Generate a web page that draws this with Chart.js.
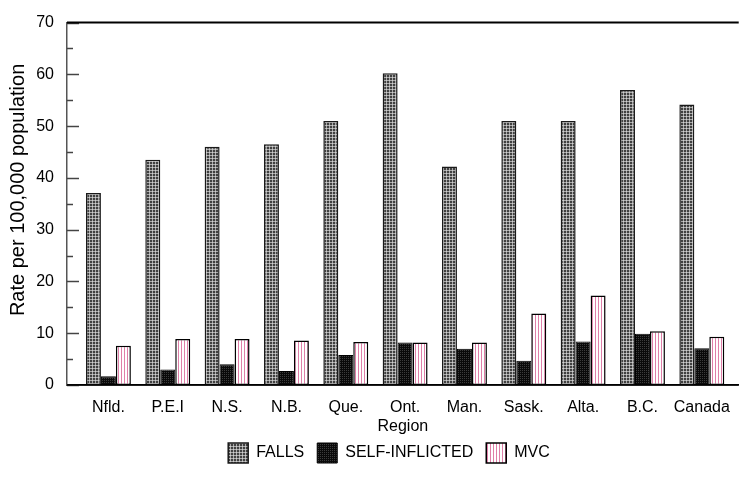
<!DOCTYPE html>
<html>
<head>
<meta charset="utf-8">
<script src="https://cdn.jsdelivr.net/npm/chart.js@4/dist/chart.umd.min.js"></script>
<style>
  html, body { margin: 0; padding: 0; background: #fff; }
  #wrap { width: 743px; height: 493px; position: relative; }
</style>
</head>
<body>
<div id="wrap"><canvas id="c" width="743" height="493"></canvas></div>
<script>
const categories = ['Nfld.', 'P.E.I', 'N.S.', 'N.B.', 'Que.', 'Ont.', 'Man.', 'Sask.', 'Alta.', 'B.C.', 'Canada'];
const falls = [37.1, 43.5, 46.0, 46.5, 51.0, 60.2, 42.2, 51.0, 51.0, 57.0, 54.2];
const selfInflicted = [1.7, 3.0, 4.0, 2.7, 5.8, 8.2, 7.0, 4.7, 8.4, 9.9, 7.1];
const mvc = [7.6, 8.9, 8.9, 8.6, 8.3, 8.2, 8.2, 13.8, 17.3, 10.4, 9.3];
const seriesNames = ['FALLS', 'SELF-INFLICTED', 'MVC'];
const yTickValues = [0, 10, 20, 30, 40, 50, 60, 70];

const FONT = '"Liberation Sans", Arial, sans-serif';

function makePattern(kind) {
  const c = document.createElement('canvas');
  const g = c.getContext('2d');
  if (kind === 'grid') {
    c.width = 3; c.height = 3;
    g.fillStyle = '#404040'; g.fillRect(0, 0, 3, 3);
    g.fillStyle = '#a8a8a8'; g.fillRect(2, 0, 1, 3); g.fillRect(0, 2, 3, 1);
    g.fillStyle = '#cfcfcf'; g.fillRect(2, 2, 1, 1);
  } else if (kind === 'dots') {
    c.width = 2; c.height = 2;
    g.fillStyle = '#0a0a0a'; g.fillRect(0, 0, 2, 2);
    g.fillStyle = '#3c3c3c'; g.fillRect(0, 0, 1, 1);
  } else {
    c.width = 3; c.height = 1;
    g.fillStyle = '#ffffff'; g.fillRect(0, 0, 3, 1);
    g.fillStyle = '#df7fa8'; g.fillRect(1, 0, 1, 1);
  }
  return g.createPattern(c, 'repeat');
}

const toPoints = arr => arr.map((v, i) => ({ x: i, y: v }));

const frame = {
  id: 'frame',
  afterLayout(chart) {
    // legend block sits slightly right of the canvas centre in the reference
    if (chart.legend) { chart.legend.left += 19; chart.legend.right += 19; }
  },
  afterDatasetsDraw(chart) {
    const { ctx, chartArea: a, scales: { y } } = chart;
    ctx.save();
    ctx.strokeStyle = '#444';
    ctx.lineWidth = 1.5;
    for (let v = 0; v <= 70; v += 5) {
      const py = Math.round(y.getPixelForValue(v)) + 0.5;
      const len = v % 10 === 0 ? 12 : 6;
      ctx.beginPath(); ctx.moveTo(a.left, py); ctx.lineTo(a.left + len, py); ctx.stroke();
    }
    ctx.strokeStyle = '#000';
    ctx.lineWidth = 2;
    ctx.beginPath(); ctx.moveTo(a.left, a.top); ctx.lineTo(a.right, a.top); ctx.stroke();
    ctx.lineWidth = 1.5;
    ctx.beginPath(); ctx.moveTo(a.left, a.bottom); ctx.lineTo(a.right, a.bottom); ctx.stroke();
    ctx.restore();
  }
};

const ctx = document.getElementById('c').getContext('2d');
new Chart(ctx, {
  type: 'bar',
  data: {
    datasets: [
      { label: seriesNames[0], data: toPoints(falls), backgroundColor: makePattern('grid'), borderColor: '#1a1a1a', borderWidth: 1.5, borderSkipped: false },
      { label: seriesNames[1], data: toPoints(selfInflicted), backgroundColor: makePattern('dots'), borderColor: '#000', borderWidth: 1, borderSkipped: false },
      { label: seriesNames[2], data: toPoints(mvc), backgroundColor: makePattern('vlines'), borderColor: '#000', borderWidth: 1.5, borderSkipped: false }
    ]
  },
  options: {
    responsive: false,
    animation: false,
    devicePixelRatio: 1,
    layout: { padding: { top: 12, right: 3, left: 0, bottom: 20 } },
    datasets: { bar: { categoryPercentage: 0.757, barPercentage: 1.0 } },
    plugins: {
      legend: {
        position: 'bottom',
        labels: {
          boxWidth: 20, boxHeight: 20, padding: 13,
          color: '#000',
          font: { family: FONT, size: 16 }
        }
      },
      tooltip: { enabled: false }
    },
    scales: {
      x: {
        type: 'linear',
        min: -0.698,
        max: 10.622,
        offset: false,
        grid: { display: false, drawTicks: false },
        border: { display: true, color: '#000', width: 1.5 },
        afterBuildTicks: s => { s.ticks = categories.map((c, i) => ({ value: i })); },
        ticks: {
          autoSkip: false, maxRotation: 0, padding: 13, color: '#000',
          font: { family: FONT, size: 16 },
          callback: v => categories[v] !== undefined ? categories[v] : ''
        },
        title: { display: true, text: 'Region', color: '#000', font: { family: FONT, size: 16 }, padding: { top: 0, bottom: -6 } },
        afterFit: s => { s.height = 45; }
      },
      y: {
        min: 0, max: 70,
        grid: { display: false, drawTicks: false },
        border: { display: true, color: '#555', width: 1.5 },
        afterBuildTicks: s => { s.ticks = yTickValues.map(v => ({ value: v })); },
        ticks: { padding: 13, color: '#000', font: { family: FONT, size: 16 } },
        title: { display: true, text: '     Rate per 100,000 population', color: '#000', font: { family: FONT, size: 20 }, padding: { top: 6, bottom: 4 } },
        afterFit: s => { s.width = 67; }
      }
    }
  },
  plugins: [frame]
});
</script>
</body>
</html>
